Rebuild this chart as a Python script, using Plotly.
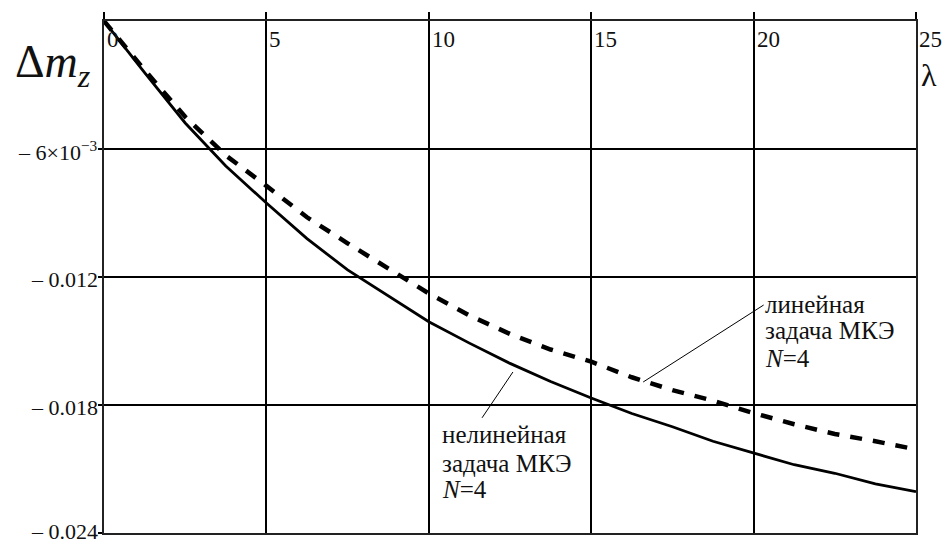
import plotly.graph_objects as go

# λ values at which the curves were read
lam = [0, 1.25, 2.5, 3.75, 5, 6.25, 7.5, 8.75, 10, 11.25, 12.5, 13.75,
       15, 16.25, 17.5, 18.75, 20, 21.25, 22.5, 23.75, 25]

# nonlinear FEM problem (solid)
nonlinear = [0, -0.00242, -0.00478, -0.0068, -0.00853, -0.0102, -0.01167,
             -0.0129, -0.0141, -0.0151, -0.01605, -0.0169, -0.01767,
             -0.0184, -0.01902, -0.0197, -0.02025, -0.0208, -0.0212,
             -0.0217, -0.02206]

# linear FEM problem (dashed)
linear = [0, -0.0023, -0.00449, -0.0063, -0.00773, -0.0092, -0.01042,
          -0.0116, -0.01277, -0.0138, -0.01467, -0.0154, -0.01597,
          -0.0167, -0.0173, -0.0178, -0.01838, -0.0189, -0.01936,
          -0.0197, -0.02008]

x_ticks = [0, 5, 10, 15, 20, 25]
x_tick_text = ["0", "5", "10", "15", "20", "25"]
y_ticks = [-0.006, -0.012, -0.018, -0.024]
y_tick_text = ["– 6×10<sup>−3</sup>", "– 0.012", "– 0.018", "– 0.024"]

FONT = "Liberation Serif, Times New Roman, serif"
TXT = "#111111"

fig = go.Figure()
fig.add_trace(go.Scatter(x=lam, y=linear, mode="lines",
                         line=dict(color="black", width=4.5, dash="12px,11px"),
                         showlegend=False, hoverinfo="skip"))
fig.add_trace(go.Scatter(x=lam, y=nonlinear, mode="lines",
                         line=dict(color="black", width=2.8),
                         showlegend=False, hoverinfo="skip"))

fig.update_layout(
    width=943, height=545,
    margin=dict(l=104, r=27, t=21, b=12, autoexpand=False),
    paper_bgcolor="white", plot_bgcolor="white",
    font=dict(family=FONT, size=22, color=TXT),
    xaxis=dict(range=[0, 25], side="top", tickvals=x_ticks,
               ticks="outside", ticklen=7, tickwidth=1.5, tickcolor="black",
               showticklabels=False, automargin=False,
               showgrid=True, gridcolor="black", gridwidth=1.5,
               showline=True, linecolor="#222", linewidth=2, mirror=True,
               zeroline=False, fixedrange=True),
    yaxis=dict(range=[-0.024, 0], tickvals=y_ticks,
               ticks="outside", ticklen=4, tickwidth=1.5, tickcolor="black",
               showticklabels=False, automargin=False,
               showgrid=True, gridcolor="black", gridwidth=1.5,
               showline=True, linecolor="#222", linewidth=2, mirror=True,
               zeroline=False, fixedrange=True),
)

# x tick labels, inside the plot just right of each grid line
for xv, t in zip(x_ticks, x_tick_text):
    fig.add_annotation(x=xv, y=0, xanchor="left", yanchor="top",
                       xshift=1, yshift=-4, showarrow=False, text=t,
                       font=dict(family=FONT, size=23, color=TXT))

# y tick labels, left of the axis
for yv, t in zip(y_ticks, y_tick_text):
    fig.add_annotation(x=0, y=yv, xanchor="right", yanchor="middle",
                       xshift=-4, yshift=(2 if yv == y_ticks[-1] else -2),
                       showarrow=False, text=t,
                       font=dict(family=FONT, size=22, color=TXT))

# axis titles
fig.add_annotation(xref="paper", yref="paper", x=-0.112, y=0.915,
                   xanchor="left", yanchor="middle", showarrow=False,
                   text="Δ<i>m</i><sub><i>z</i></sub>",
                   font=dict(family=FONT, size=46, color=TXT))
fig.add_annotation(xref="paper", yref="paper", x=1.004, y=0.895,
                   xanchor="left", yanchor="middle", showarrow=False,
                   text="λ", font=dict(family=FONT, size=32, color=TXT))

# leader lines (label -> curve)
fig.add_shape(type="line", xref="x", yref="y",
              x0=20.31, y0=-0.013313, x1=16.6, y1=-0.016922,
              line=dict(color="black", width=1))
fig.add_shape(type="line", xref="x", yref="y",
              x0=11.64, y0=-0.0186, x1=12.59, y1=-0.016453,
              line=dict(color="black", width=1))

# curve labels
lin_lines = ["линейная", "задача МКЭ", "<i>N</i>=4"]
lin_y = [-0.013266, -0.014531, -0.015797]
for t, yy in zip(lin_lines, lin_y):
    fig.add_annotation(x=20.28, y=yy, xanchor="left", yanchor="middle",
                       showarrow=False, text=t,
                       font=dict(family=FONT, size=25, color=TXT))
nl_lines = ["нелинейная", "задача МКЭ", "<i>N</i>=4"]
nl_y = [-0.019406, -0.020719, -0.021984]
for t, yy in zip(nl_lines, nl_y):
    fig.add_annotation(x=10.34, y=yy, xanchor="left", yanchor="middle",
                       showarrow=False, text=t,
                       font=dict(family=FONT, size=25, color=TXT))

fig.write_html("out.html")
